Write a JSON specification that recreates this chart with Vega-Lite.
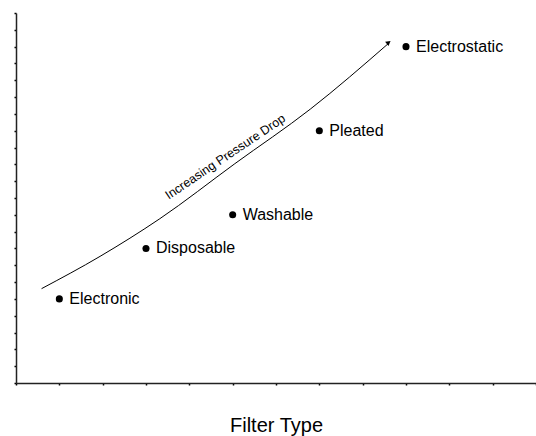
{
  "$schema": "https://vega.github.io/schema/vega-lite/v6.json",
  "width": 520,
  "height": 370,
  "autosize": "none",
  "padding": {"left": 16, "top": 13, "right": 0, "bottom": 53},
  "background": "white",
  "config": {
    "view": {"stroke": null},
    "font": "Liberation Sans"
  },
  "datasets": {
    "filters": [
      {"position": 1, "pressure": 5, "filter": "Electronic"},
      {"position": 3, "pressure": 8, "filter": "Disposable"},
      {"position": 5, "pressure": 10, "filter": "Washable"},
      {"position": 7, "pressure": 15, "filter": "Pleated"},
      {"position": 9, "pressure": 20, "filter": "Electrostatic"}
    ],
    "curve": [
      {"position": 0.59, "pressure": 5.61},
      {"position": 1.94, "pressure": 7.53},
      {"position": 3.32, "pressure": 9.77},
      {"position": 5.05, "pressure": 13.04},
      {"position": 6.79, "pressure": 16.28},
      {"position": 8.6, "pressure": 20.2}
    ],
    "arrow": [
      {"position": 8.6, "pressure": 20.25}
    ],
    "note": [
      {"position": 4.83, "pressure": 13.45, "text": "Increasing Pressure Drop"}
    ]
  },
  "layer": [
    {
      "data": {"name": "filters"},
      "mark": {"type": "point", "filled": true, "color": "black", "opacity": 1, "size": 50},
      "encoding": {
        "x": {
          "field": "position", "type": "quantitative",
          "scale": {"domain": [0, 12], "nice": false, "zero": false},
          "axis": {
            "title": "Filter Type", "labels": false, "grid": false,
            "values": [0,1,2,3,4,5,6,7,8,9,10,11,12],
            "tickCount": 40,
            "tickSize": 2, "tickColor": "black", "tickWidth": 1.5,
            "domainColor": "#222222", "domainWidth": 1.5,
            "titleFontSize": 20, "titleFontWeight": "normal", "titleColor": "black",
            "titlePadding": 30, "titleFont": "Liberation Sans"
          }
        },
        "y": {
          "field": "pressure", "type": "quantitative",
          "scale": {"domain": [0, 22], "nice": false, "zero": false},
          "axis": {
            "title": null, "labels": false, "grid": false,
            "values": [0,1,2,3,4,5,6,7,8,9,10,11,12,13,14,15,16,17,18,19,20,21,22],
            "tickCount": 40, "labelOverlap": false,
            "tickSize": 2, "tickColor": "black", "tickWidth": 1.5,
            "domainColor": "#222222", "domainWidth": 1.5
          }
        }
      }
    },
    {
      "data": {"name": "filters"},
      "mark": {"type": "text", "align": "left", "baseline": "middle", "dx": 10, "fontSize": 16, "color": "black"},
      "encoding": {
        "x": {"field": "position", "type": "quantitative"},
        "y": {"field": "pressure", "type": "quantitative"},
        "text": {"field": "filter"}
      }
    },
    {
      "data": {"name": "curve"},
      "mark": {"type": "line", "interpolate": "monotone", "color": "black", "strokeWidth": 1},
      "encoding": {
        "x": {"field": "position", "type": "quantitative"},
        "y": {"field": "pressure", "type": "quantitative"}
      }
    },
    {
      "data": {"name": "arrow"},
      "mark": {"type": "point", "shape": "triangle-up", "filled": true, "color": "black", "opacity": 1, "size": 30, "angle": 52},
      "encoding": {
        "x": {"field": "position", "type": "quantitative"},
        "y": {"field": "pressure", "type": "quantitative"}
      }
    },
    {
      "data": {"name": "note"},
      "mark": {"type": "text", "align": "center", "baseline": "middle", "angle": -34, "fontSize": 12.5, "color": "black"},
      "encoding": {
        "x": {"field": "position", "type": "quantitative"},
        "y": {"field": "pressure", "type": "quantitative"},
        "text": {"field": "text"}
      }
    }
  ]
}
